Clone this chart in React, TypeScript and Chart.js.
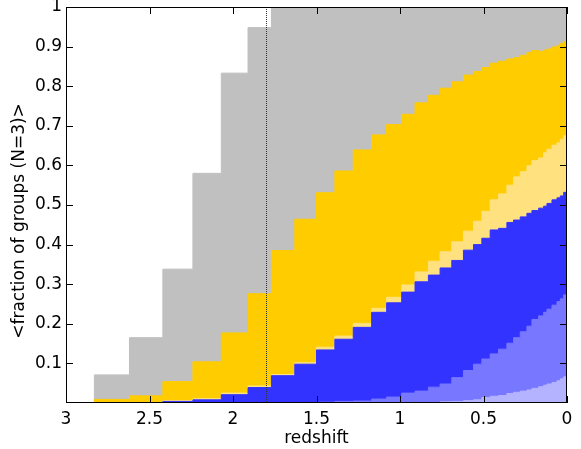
import React, { useEffect, useRef } from 'react';
import { Chart, registerables } from 'chart.js';

Chart.register(...registerables);

// Snapshot redshift edges (bins run from edge[i] to edge[i+1])
const redshiftEdges = [3.0, 2.83, 2.62, 2.42, 2.24, 2.07, 1.91, 1.77, 1.63, 1.5, 1.39, 1.28, 1.17, 1.08, 0.99, 0.91, 0.83, 0.76, 0.69, 0.62, 0.56, 0.51, 0.46, 0.41, 0.36, 0.32, 0.28, 0.24, 0.21, 0.17, 0.14, 0.12, 0.09, 0.06, 0.04, 0.02, 0.0];

// Cumulative (stacked) upper boundaries of each layer, one value per bin
const grayTop = [0, 0.071, 0.165, 0.338, 0.58, 0.833, 0.948, 1, 1, 1, 1, 1, 1, 1, 1, 1, 1, 1, 1, 1, 1, 1, 1, 1, 1, 1, 1, 1, 1, 1, 1, 1, 1, 1, 1, 1];
const goldTop = [0, 0.009, 0.018, 0.054, 0.104, 0.177, 0.276, 0.385, 0.464, 0.531, 0.586, 0.639, 0.677, 0.703, 0.729, 0.758, 0.777, 0.795, 0.811, 0.828, 0.837, 0.847, 0.858, 0.863, 0.869, 0.872, 0.878, 0.885, 0.89, 0.888, 0.891, 0.894, 0.899, 0.903, 0.908, 0.912];
const lightYellowTop = [0, 0, 0.001, 0.006, 0.011, 0.025, 0.043, 0.072, 0.102, 0.141, 0.169, 0.201, 0.239, 0.267, 0.298, 0.331, 0.358, 0.382, 0.407, 0.434, 0.459, 0.484, 0.513, 0.528, 0.55, 0.571, 0.584, 0.599, 0.612, 0.619, 0.632, 0.641, 0.651, 0.657, 0.666, 0.675];
const blueTop = [0, 0, 0.001, 0.004, 0.008, 0.021, 0.039, 0.069, 0.098, 0.134, 0.161, 0.191, 0.229, 0.253, 0.28, 0.306, 0.323, 0.341, 0.36, 0.386, 0.4, 0.416, 0.437, 0.441, 0.456, 0.462, 0.47, 0.479, 0.486, 0.492, 0.497, 0.504, 0.513, 0.518, 0.523, 0.532];
const mediumBlueTop = [0, 0, 0, 0, 0, 0, 0, 0, 0, 0.002, 0.004, 0.005, 0.01, 0.015, 0.025, 0.03, 0.04, 0.048, 0.064, 0.082, 0.098, 0.111, 0.124, 0.136, 0.151, 0.165, 0.18, 0.194, 0.211, 0.22, 0.229, 0.237, 0.247, 0.256, 0.263, 0.273];
const lightBlueTop = [0, 0, 0, 0, 0, 0, 0, 0, 0, 0, 0, 0, 0, 0, 0, 0, 0.001, 0.003, 0.004, 0.006, 0.008, 0.014, 0.017, 0.019, 0.024, 0.027, 0.03, 0.033, 0.037, 0.041, 0.045, 0.048, 0.052, 0.056, 0.061, 0.066];

const markerRedshift = 1.8;
const xTicks = [3, 2.5, 2, 1.5, 1, 0.5, 0];
const yTicks = [0.1, 0.2, 0.3, 0.4, 0.5, 0.6, 0.7, 0.8, 0.9, 1];
const xTitle = 'redshift';
const yTitle = '<fraction of groups (N=3)>';

const FONT = '"DejaVu Sans", sans-serif';
const FONT_SIZE = 17;
const TICK_LEN = 7;

function toPoints(values: number[]) {
  const pts = values.map((v, i) => ({ x: redshiftEdges[i], y: v }));
  pts.push({ x: redshiftEdges[redshiftEdges.length - 1], y: values[values.length - 1] });
  return pts;
}

const fmt = (v: number) => String(Math.round(v * 100) / 100);

const overlayPlugin = {
  id: 'overlayMarks',
  afterDraw(chart: any) {
    const ctx = chart.ctx;
    const a = chart.chartArea;
    const x = chart.scales.x;
    const y = chart.scales.y;
    ctx.save();
    // dotted marker line
    const xd = Math.round(x.getPixelForValue(markerRedshift));
    ctx.fillStyle = '#333333';
    for (let py = Math.round(a.top); py < a.bottom; py += 2) {
      ctx.fillRect(xd, py, 1, 1);
    }
    // 1px frame around the plot area
    const l = Math.round(a.left);
    const r = Math.round(a.right) - 1;
    const t = Math.round(a.top);
    const b = Math.round(a.bottom) - 1;
    ctx.fillStyle = '#000000';
    ctx.fillRect(l, t, r - l + 1, 1);
    ctx.fillRect(l, b, r - l + 1, 1);
    ctx.fillRect(l, t, 1, b - t + 1);
    ctx.fillRect(r, t, 1, b - t + 1);
    // inward ticks on all four sides
    xTicks.forEach((v) => {
      const px = Math.round(x.getPixelForValue(v));
      ctx.fillRect(px, b - TICK_LEN + 1, 1, TICK_LEN);
      ctx.fillRect(px, t, 1, TICK_LEN);
    });
    yTicks.forEach((v) => {
      const py = Math.round(y.getPixelForValue(v));
      ctx.fillRect(l, py, TICK_LEN, 1);
      ctx.fillRect(r - TICK_LEN + 1, py, TICK_LEN, 1);
    });
    // y title
    ctx.translate(20, (a.top + a.bottom) / 2 + 16);
    ctx.rotate(-Math.PI / 2);
    ctx.font = `${FONT_SIZE}px ${FONT}`;
    ctx.textAlign = 'center';
    ctx.textBaseline = 'middle';
    ctx.fillStyle = '#000';
    ctx.fillText(yTitle, 0, 0);
    ctx.restore();
  },
};

export default function App() {
  const ref = useRef<HTMLCanvasElement | null>(null);
  useEffect(() => {
    if (!ref.current) return;
    const layers = [
      { data: lightBlueTop, color: '#b3b3ff' },
      { data: mediumBlueTop, color: '#7777ff' },
      { data: blueTop, color: '#3333ff' },
      { data: lightYellowTop, color: '#ffe17f' },
      { data: goldTop, color: '#ffcc00' },
      { data: grayTop, color: '#c0c0c0' },
    ];
    const setX = (s: any) => {
      s.ticks = xTicks.map((v) => ({ value: v }));
    };
    const setY = (s: any) => {
      s.ticks = yTicks.map((v) => ({ value: v }));
    };
    const chart = new Chart(ref.current, {
      type: 'line',
      data: {
        datasets: layers.map((l) => ({
          data: toPoints(l.data),
          stepped: true,
          fill: 'origin',
          backgroundColor: l.color,
          borderColor: l.color,
          borderWidth: 1,
          pointRadius: 0,
          tension: 0,
        })),
      },
      options: {
        responsive: false,
        animation: false,
        devicePixelRatio: 1,
        layout: { padding: { top: 7, right: 14, left: 0, bottom: 0 } },
        plugins: { legend: { display: false }, tooltip: { enabled: false } },
        scales: {
          x: {
            type: 'linear',
            position: 'bottom',
            min: 0,
            max: 3,
            reverse: true,
            afterBuildTicks: setX,
            ticks: {
              color: '#000',
              font: { family: FONT, size: FONT_SIZE },
              padding: 6,
              maxRotation: 0,
              autoSkip: false,
              callback: (v: any) => fmt(Number(v)),
            },
            grid: { display: false, drawTicks: false },
            border: { display: false },
            title: {
              display: true,
              text: xTitle,
              color: '#000',
              font: { family: FONT, size: FONT_SIZE },
              padding: { top: 0, bottom: 0 },
            },
            afterFit: (s: any) => {
              s.height = 46;
              s.paddingLeft = 0;
              s.paddingRight = 0;
            },
          },
          y: {
            type: 'linear',
            position: 'left',
            min: 0,
            max: 1,
            afterBuildTicks: setY,
            ticks: {
              color: '#000',
              font: { family: FONT, size: FONT_SIZE },
              padding: 4,
              autoSkip: false,
              callback: (v: any) => fmt(Number(v)),
            },
            grid: { display: false, drawTicks: false },
            border: { display: false },
            afterFit: (s: any) => {
              s.width = 66;
              s.paddingTop = 0;
              s.paddingBottom = 0;
            },
          },
        },
      },
      plugins: [overlayPlugin],
    });
    return () => chart.destroy();
  }, []);
  return (
    <div style={{ position: 'fixed', left: 0, top: 0, width: 581, height: 449, background: '#fff' }}>
      <canvas ref={ref} width={581} height={449} />
    </div>
  );
}
